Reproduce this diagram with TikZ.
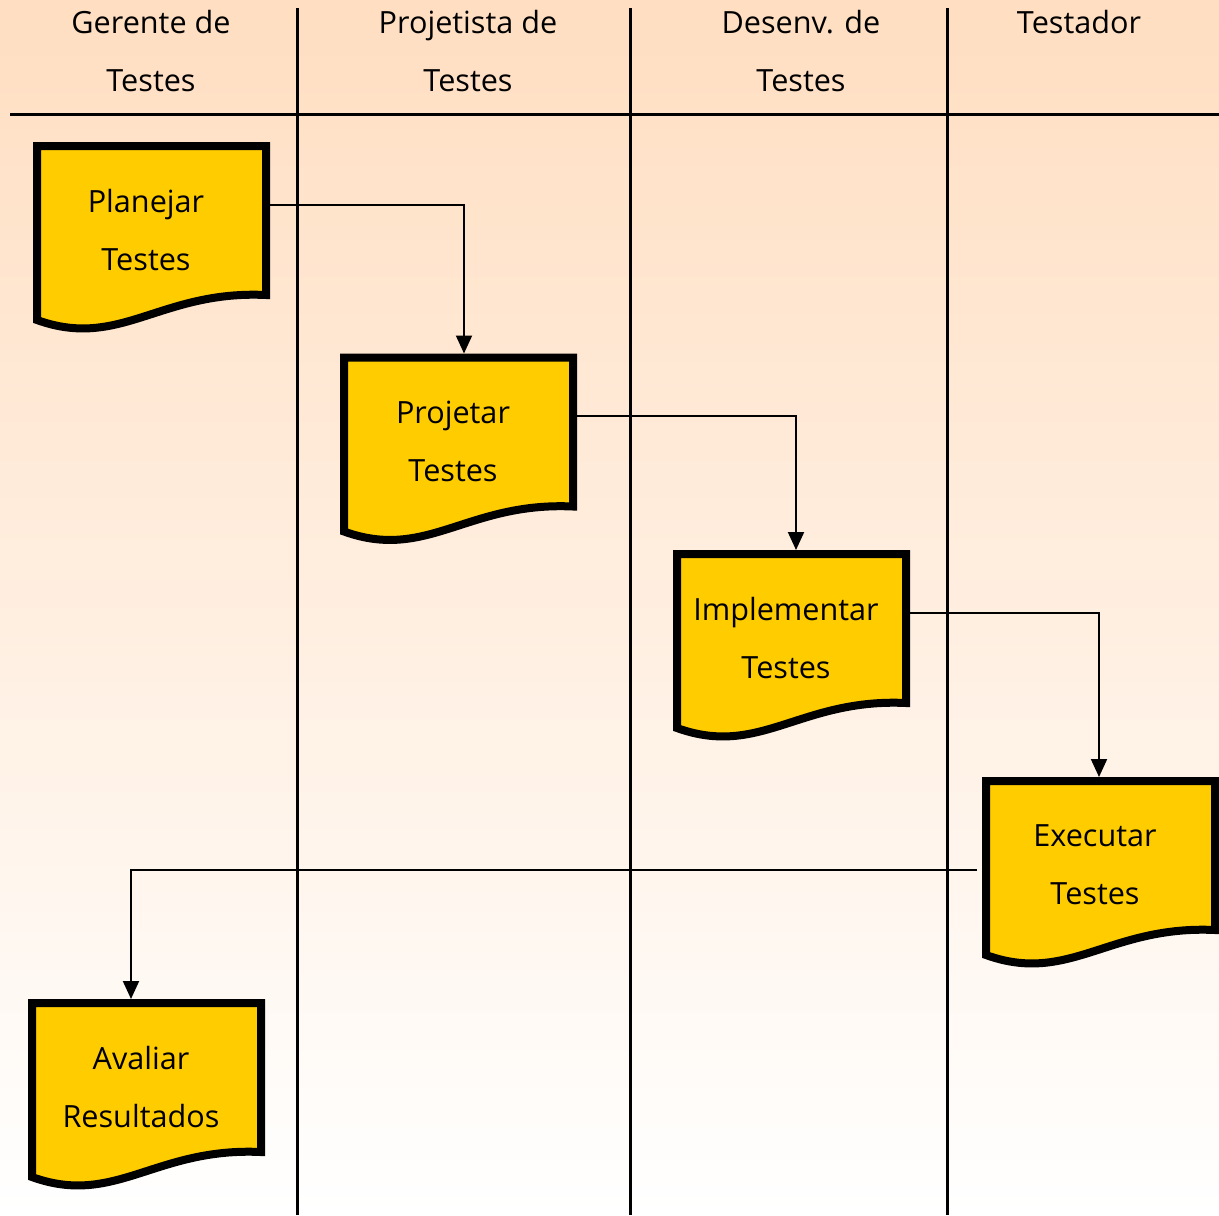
\documentclass[tikz,border=0pt]{standalone}
\usepackage{fontspec}
\setmainfont{Open Sans}
\usetikzlibrary{arrows.meta,calc,positioning}
\pgfdeclarelayer{background}
\pgfsetlayers{background,main}
\definecolor{peach}{RGB}{255,222,193}
\definecolor{docyellow}{RGB}{255,204,0}

\begin{document}
\begin{tikzpicture}[
    x=0.5pt,
    y=-0.5pt,
    >={Triangle[width=8pt,length=9pt]},
    lane/.style={line width=1.5pt,draw=black},
    heading/.style={align=center,font=\fontsize{15.3}{29}\selectfont},
    task/.style={align=center,font=\fontsize{15.3}{29}\selectfont,inner sep=0pt},
    docshape/.style={line width=4pt,draw=black,fill=docyellow,line join=miter},
    flow/.style={->,line width=1pt}
]

\useasboundingbox (0,0) rectangle (1219,1215);

% ---------------------------------------------------------
% Lane headings
% ---------------------------------------------------------

\node[heading] (hgerente) at (151,51) {Gerente de\\Testes};
\node[heading] (hprojetista) at (468,51) {Projetista de\\Testes};
\node[heading] (hdesenv) at (801,51) {Desenv. de\\Testes};
\node[heading] (htestador) at (1079,22) {Testador};

% ---------------------------------------------------------
% Activities
% ---------------------------------------------------------

\node[task] (plan) at (146,230) {Planejar\\Testes};
\node[task] (proj) at (453,441.5) {Projetar\\Testes};
\node[task] (impl) at (786,638) {Implementar\\Testes};
\node[task] (exec) at (1095,865) {Executar\\Testes};
\node[task] (aval) at (141,1087) {Avaliar\\Resultados};

% ---------------------------------------------------------
% Background, lanes and document shapes
% ---------------------------------------------------------

\begin{pgfonlayer}{background}
    \shade[top color=peach,bottom color=white]
        (0,0) rectangle (1219,1215);

    \draw[lane] (10,114) -- (1219,114);
    \foreach \x in {297,630,947}
        \draw[lane] (\x,8) -- (\x,1215);

    \foreach \n in {plan,proj,impl,exec,aval}
        \draw[docshape]
            ([shift={(-109,90)}]\n.center)
            -- ([shift={(-109,-84)}]\n.center)
            -- ([shift={(120,-84)}]\n.center)
            -- ([shift={(120,65)}]\n.center)
            .. controls ([shift={(14,60)}]\n.center)
            and ([shift={(-26,120)}]\n.center) .. cycle;
\end{pgfonlayer}

% ---------------------------------------------------------
% Flow
% ---------------------------------------------------------

\draw[flow] ([shift={(124,-25)}]plan.center) -| ([shift={(11,-88)}]proj.center);
\draw[flow] ([shift={(117,-26)}]proj.center) -| ([shift={(10,-88)}]impl.center);
\draw[flow] ([shift={(117,-25)}]impl.center) -| ([shift={(4,-88)}]exec.center);
\draw[flow] ([shift={(-118,5)}]exec.center) -| ([shift={(-10,-88)}]aval.center);

\end{tikzpicture}
\end{document}
